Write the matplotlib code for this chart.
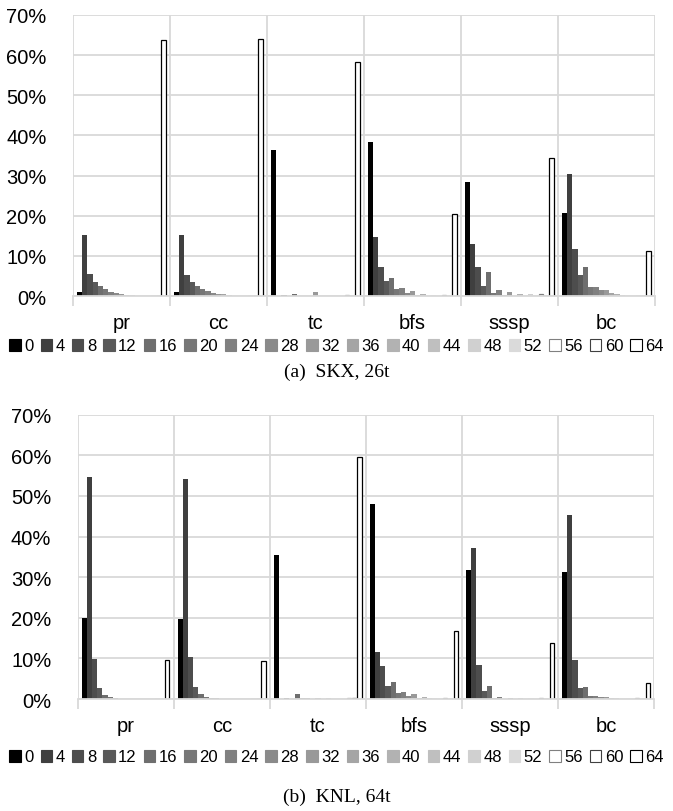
import numpy as np
import matplotlib
matplotlib.use("Agg")
import matplotlib.pyplot as plt
from matplotlib.patches import Patch
from matplotlib.ticker import FuncFormatter

plt.rcParams['font.family'] = ['Liberation Sans', 'DejaVu Sans']

kernels = ['pr', 'cc', 'tc', 'bfs', 'sssp', 'bc']
bins = ['0', '4', '8', '12', '16', '20', '24', '28', '32', '36', '40', '44', '48', '52', '56', '60', '64']

# % of time per bin, one list per kernel (SKX, 26 threads)
skx_pr = [1.0, 15.1, 5.6, 3.6, 2.5, 1.7, 1.1, 0.7, 0.4, 0.35, 0.2, 0, 0, 0, 0, 0, 63.7]
skx_cc = [1.0, 15.2, 5.3, 3.6, 2.6, 1.8, 1.2, 0.8, 0.5, 0.4, 0.2, 0.1, 0, 0, 0, 0, 64.1]
skx_tc = [36.3, 0, 0.2, 0, 0.5, 0, 0, 0, 0.9, 0, 0, 0, 0, 0, 0.3, 0, 58.3]
skx_bfs = [38.4, 14.7, 7.2, 3.7, 4.5, 1.8, 2.0, 0.8, 1.2, 0.3, 0.5, 0.1, 0.2, 0, 0.3, 0, 20.5]
skx_sssp = [28.5, 13.0, 7.2, 2.5, 6.1, 0.7, 1.4, 0.2, 1.0, 0, 0.4, 0, 0.4, 0, 0.5, 0, 34.5]
skx_bc = [20.8, 30.3, 11.8, 5.2, 7.2, 2.3, 2.3, 1.4, 1.5, 0.7, 0.6, 0.3, 0.2, 0.1, 0, 0, 11.1]

# KNL, 64 threads
knl_pr = [20.0, 54.6, 9.9, 2.8, 1.0, 0.4, 0.25, 0.1, 0, 0, 0, 0, 0, 0, 0, 0, 9.6]
knl_cc = [19.8, 54.2, 10.3, 2.95, 1.15, 0.45, 0.3, 0.15, 0, 0, 0, 0, 0, 0, 0, 0, 9.4]
knl_tc = [35.5, 0, 0.3, 0, 1.2, 0.2, 0.2, 0, 0.2, 0, 0.2, 0, 0, 0, 0.3, 0.3, 59.5]
knl_bfs = [47.9, 11.7, 8.2, 3.1, 4.2, 1.5, 1.8, 0.65, 1.15, 0.3, 0.5, 0.2, 0.2, 0.1, 0.2, 0, 16.7]
knl_sssp = [31.8, 37.3, 8.4, 2.05, 3.1, 0.3, 0.6, 0, 0.3, 0, 0.2, 0, 0.2, 0, 0.3, 0, 13.7]
knl_bc = [31.4, 45.2, 9.7, 2.7, 2.95, 0.75, 0.75, 0.5, 0.4, 0.3, 0.2, 0.1, 0, 0, 0.2, 0, 3.9]

skx = [skx_pr, skx_cc, skx_tc, skx_bfs, skx_sssp, skx_bc]
knl = [knl_pr, knl_cc, knl_tc, knl_bfs, knl_sssp, knl_bc]

fills = ['#000000', '#3f3f3f', '#4d4d4d', '#595959', '#6e6e6e', '#777777', '#808080', '#8a8a8a',
         '#999999', '#a5a5a5', '#b2b2b2', '#bfbfbf', '#d0d0d0', '#dadada', 'white', 'white', 'white']
edges = [None] * 14 + ['#808080', '#404040', '#000000']

grid_c = '#d9d9d9'
nb = len(bins)
slot = 1.0 / (nb + 1.5)


def draw(ax, data):
    vals = np.array(data)
    x = np.arange(len(kernels))
    for j in range(nb):
        xs = x - 0.5 + (0.75 + j + 0.5) * slot
        if edges[j] is None:
            ax.bar(xs, vals[:, j], width=slot, color=fills[j], linewidth=0)
        else:
            ax.bar(xs, vals[:, j], width=slot * 0.8, color=fills[j],
                   edgecolor=edges[j], linewidth=0.9)
    ax.set_xlim(-0.5, len(kernels) - 0.5)
    ax.set_ylim(0, 70)
    ax.set_yticks(range(0, 71, 10))
    ax.yaxis.set_major_formatter(FuncFormatter(lambda v, p: '%d%%' % v))
    ax.yaxis.grid(True, color=grid_c, linewidth=1.3)
    ax.set_axisbelow(True)
    ax.set_xticks(x)
    ax.set_xticklabels(kernels)
    ax.set_xticks(np.arange(-0.5, len(kernels)), minor=True)
    for b in np.arange(-0.5, len(kernels)):
        ax.axvline(b, color=grid_c, linewidth=1.3, zorder=0)
    ax.tick_params(axis='x', which='major', length=0, pad=12, labelsize=14.5)
    ax.tick_params(axis='x', which='minor', length=7, color=grid_c, width=1.3)
    ax.tick_params(axis='y', length=0, pad=19, labelsize=14.5)
    for s in ['top', 'right', 'left']:
        ax.spines[s].set_visible(False)
    ax.spines['bottom'].set_color(grid_c)
    ax.spines['bottom'].set_linewidth(1.3)


fig = plt.figure(figsize=(6.73, 8.12), dpi=100)
ax1 = fig.add_axes([0.1085, 0.6342, 0.8648, 0.3461])
ax2 = fig.add_axes([0.1155, 0.1379, 0.8567, 0.3501])
draw(ax1, skx)
draw(ax2, knl)

handles = [Patch(facecolor=fills[j], edgecolor=edges[j] if edges[j] else fills[j],
                 linewidth=0.8) for j in range(nb)]
for yl in [1 - 347 / 812, 1 - 758 / 812]:
    fig.legend(handles, bins, loc='center', bbox_to_anchor=(0.5, yl), ncol=nb,
               frameon=False, fontsize=12, handlelength=0.7, handleheight=0.7,
               handletextpad=0.2, columnspacing=0.42, borderpad=0)

fig.text(0.5, 1 - 372 / 812, '(a)  SKX, 26t', ha='center', va='center',
         family='Liberation Serif', fontsize=14)
fig.text(0.5, 1 - 797 / 812, '(b)  KNL, 64t', ha='center', va='center',
         family='Liberation Serif', fontsize=14)

fig.savefig('out.png', dpi=100)
